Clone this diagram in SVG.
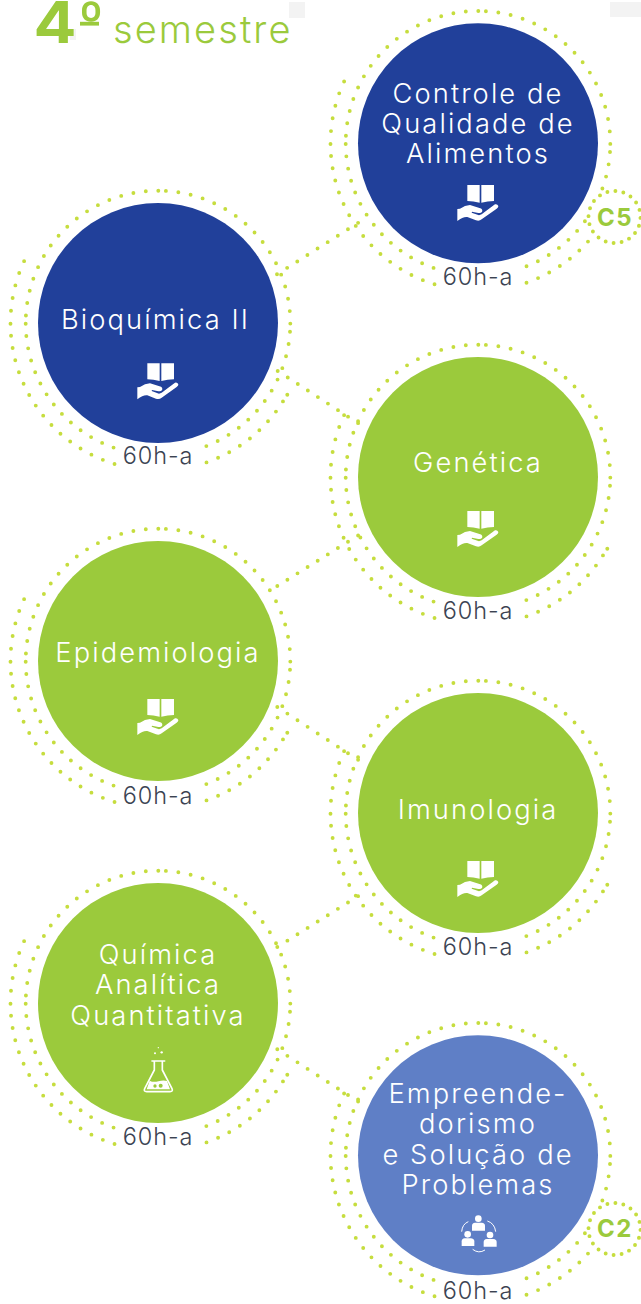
<svg xmlns="http://www.w3.org/2000/svg" width="641" height="1304" viewBox="0 0 641 1304">
<style>
.d{fill:none;stroke:#c6dd3e;stroke-width:3.9;stroke-linecap:round}
.b{font-family:"Inter","Liberation Sans",sans-serif;font-weight:300;font-size:27.3px;letter-spacing:2.1px;fill:#fff;text-anchor:middle}
.h{font-family:"Inter","Liberation Sans",sans-serif;font-weight:300;font-size:23.5px;letter-spacing:.9px;fill:#3b4352;text-anchor:middle}
.k{font-family:"Inter","Liberation Sans",sans-serif;font-weight:700;font-size:24px;letter-spacing:1.5px;fill:#9bca3c;text-anchor:middle}
.t{font-family:"Inter","Liberation Sans",sans-serif;fill:#9bca3c}
.navy{fill:#21409a}.green{fill:#9bca3c}.peri{fill:#5f7fc6}
</style>
<defs>
<g id="ring-base">
<path class="d" stroke-dasharray="0 12.53" d="M.3-132.3A132.3 132.3 0 0 0-132.1-7"/>
<path class="d" stroke-dasharray="0 12.53" d="M7.9-132.1A132.3 132.3 0 0 1 132.3 1.5"/>
<path class="d" stroke-dasharray="0 12.43" d="M-132.3.7A132.3 132.3 0 0 0-44.1 124.7"/>
<path class="d" stroke-dasharray="0 12.9" d="M-147.5.7A147.5 147.5 0 0 1-133.6-62.5"/>
<path class="d" stroke-dasharray="0 12.48" d="M-146.95 12.7A147.5 147.5 0 0 0-43.1 141.1"/>
</g>
<g id="ring-plain">
<use href="#ring-base"/>
<path class="d" stroke-dasharray="0 12.45" d="M132 8.7A132.3 132.3 0 0 1 47.8 123.3"/>
<path class="d" stroke-dasharray="0 12.45" d="M48.5 139.4A147.5 147.5 0 0 0 125.4 77.7"/>
<path class="d" d="M129.3 71.7h.01"/>
</g>
<g id="ring-badge">
<use href="#ring-base"/>
<path class="d" stroke-dasharray="0 12.45" d="M132 8.7A132.3 132.3 0 0 1 124.2 45.7"/>
<path class="d" stroke-dasharray="0 12.45" d="M106.9 77.9A132.3 132.3 0 0 1 47.8 123.3"/>
<path class="d" stroke-dasharray="0 12.45" d="M48.5 139.4A147.5 147.5 0 0 0 110.5 97.7"/>
</g>
<circle id="badge-ring" class="d" r="26" pathLength="20" stroke-dasharray="0 1" transform="rotate(-88)"/>
<g id="hand" fill="#fff" transform="translate(-158 -363.3)">
<g transform="translate(120 350) scale(.3333)">
<path d="M82 40H119V93Q100 88 82 88Z"/>
<path d="M124 40H162V88Q143 88 124 93Z"/>
<path d="M52 112L60 111Q75 100 90 100L116 108Q127 110 127 117Q127 124 115 124L96 120L95 123L117 131L125 128L165 98Q172 96 175 103Q176 107 170 111L125 143Q118 149 108 146L82 136Q70 134 52 148Z"/>
</g>
</g>
</defs>
<rect width="641" height="1304" fill="#fff"/>
<g fill="#f3f3f3">
<rect x="289" y="2" width="16" height="16"/>
<rect x="610" y="2" width="31" height="15"/>
<rect x="70" y="29" width="6" height="11"/>
</g>
<g id="title">
<text class="t" x="33.5" y="43" font-weight="700" font-size="58" textLength="43" lengthAdjust="spacingAndGlyphs">4</text>
<text class="t" x="78.5" y="39" font-weight="700" font-size="52">º</text>
<rect x="80" y="21.8" width="19" height="3.8" fill="#9bca3c"/>
<text class="t" x="113" y="43.3" font-weight="300" font-size="38" letter-spacing="2.1">semestre</text>
</g>
<g id="connectors">
<path class="d" pathLength="8.02" stroke-dasharray="0 1" d="M277 274.3L358.3 222.7"/>
<path class="d" pathLength="8.02" stroke-dasharray="0 1" d="M277.7 371L358.3 423.3"/>
<path class="d" pathLength="8.02" stroke-dasharray="0 1" d="M277.3 586L358.3 535.3"/>
<path class="d" pathLength="8.02" stroke-dasharray="0 1" d="M277.3 707L358.3 760"/>
<path class="d" pathLength="8.02" stroke-dasharray="0 1" d="M277.3 947L358.3 896"/>
<path class="d" pathLength="8.02" stroke-dasharray="0 1" d="M277.3 1049.3L358.3 1101.7"/>
</g>
<g id="node-controle">
<use href="#ring-badge" x="478" y="143.3"/>
<circle class="navy" cx="478" cy="143.3" r="120"/>
<text class="b" x="478"><tspan x="478" y="102.7">Controle de</tspan><tspan x="478" y="133">Qualidade de</tspan><tspan x="478" y="163.3">Alimentos</tspan></text>
<use href="#hand" x="478" y="185"/>
<text class="h" x="478" y="285">60h-a</text>
</g>
<g id="badge-c5">
<use href="#badge-ring" transform="translate(614.5 217)"/>
<text class="k" x="615" y="225.7">C5</text>
</g>
<g id="node-bioquimica">
<use href="#ring-plain" x="158" y="323"/>
<circle class="navy" cx="158" cy="323" r="120"/>
<text class="b" x="155.5" y="329">Bioquímica II</text>
<use href="#hand" x="158" y="363.3"/>
<text class="h" x="158" y="464.3">60h-a</text>
</g>
<g id="node-genetica">
<use href="#ring-plain" x="478" y="477"/>
<circle class="green" cx="478" cy="477" r="120"/>
<text class="b" x="478" y="472">Genética</text>
<use href="#hand" x="478" y="511"/>
<text class="h" x="478" y="619">60h-a</text>
</g>
<g id="node-epidemiologia">
<use href="#ring-plain" x="158" y="661"/>
<circle class="green" cx="158" cy="661" r="120"/>
<text class="b" x="158" y="662">Epidemiologia</text>
<use href="#hand" x="158" y="699"/>
<text class="h" x="158" y="803.5">60h-a</text>
</g>
<g id="node-imunologia">
<use href="#ring-plain" x="478" y="813"/>
<circle class="green" cx="478" cy="813" r="120"/>
<text class="b" x="478" y="819">Imunologia</text>
<use href="#hand" x="478" y="861"/>
<text class="h" x="478" y="955">60h-a</text>
</g>
<g id="node-quimica">
<use href="#ring-plain" x="158" y="1003"/>
<circle class="green" cx="158" cy="1003" r="120"/>
<text class="b" x="158"><tspan x="158" y="964">Química</tspan><tspan x="158" y="994">Analítica</tspan><tspan x="158" y="1025">Quantitativa</tspan></text>
<g transform="translate(120 1030) scale(.3333)">
<circle cx="115" cy="53" r="2" fill="#fff"/><circle cx="105" cy="70" r="3" fill="#fff"/><circle cx="125" cy="67" r="3.5" fill="#fff"/>
<path fill="none" stroke="#fff" stroke-width="5" stroke-linejoin="round" stroke-linecap="round" d="M96 93H134M103 93V120L74 176Q70 185 80 185H150Q160 185 156 176L127 120V93"/>
<path fill="#fff" d="M89 152Q100 158 115 154Q130 150 141 153L150 178H80Z"/>
<circle cx="105" cy="168" r="5" fill="#9bca3c"/><circle cx="122" cy="167" r="6" fill="#9bca3c"/>
</g>
<text class="h" x="158" y="1145">60h-a</text>
</g>
<g id="node-empreendedorismo">
<use href="#ring-badge" x="478" y="1155.3"/>
<circle class="peri" cx="478" cy="1155.3" r="120"/>
<text class="b" x="478"><tspan x="478" y="1103">Empreende-</tspan><tspan x="478" y="1133">dorismo</tspan><tspan x="478" y="1164">e Solução de</tspan><tspan x="478" y="1194">Problemas</tspan></text>
<g transform="translate(430 1200) scale(.3333)" fill="#fff">
<circle cx="145" cy="56" r="10"/><path d="M126 92V77Q126 69 135 68H155Q165 69 165 77V92Z"/>
<circle cx="113" cy="103" r="10"/><path d="M95 138V124Q95 116 104 115H122Q133 116 133 124V138Z"/>
<circle cx="180" cy="105" r="10"/><path d="M161 140V126Q161 118 170 117H190Q200 118 200 126V140Z"/>
<path fill="none" stroke="#fff" stroke-width="3" d="M95 95Q97 72 115 65M172 63Q194 70 197 95M128 148Q146 162 165 150"/>
</g>
<text class="h" x="478" y="1298.5">60h-a</text>
</g>
<g id="badge-c2">
<use href="#badge-ring" transform="translate(614.5 1229)"/>
<text class="k" x="615" y="1236.7">C2</text>
</g>
</svg>
